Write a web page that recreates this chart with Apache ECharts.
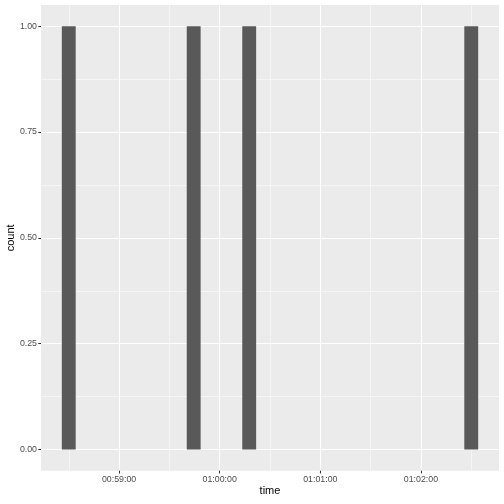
<!DOCTYPE html>
<html>
<head>
<meta charset="utf-8">
<script src="https://cdn.jsdelivr.net/npm/echarts@6/dist/echarts.min.js"></script>
<style>html,body{margin:0;padding:0;background:#fff}#c{width:504px;height:504px}</style>
</head>
<body>
<div id="c"></div>
<script>
// Histogram bins (ggplot default 30 bins); bars with non-zero counts
const binCenters = ["00:58:30", "00:59:44.5", "01:00:17.6", "01:02:30"];
const counts = [1, 1, 1, 1];
const binWidthSec = 240 / 29;
const xTickLabels = ["00:59:00", "01:00:00", "01:01:00", "01:02:00"];
const xMinorTicks = ["00:58:30", "00:59:30", "01:00:30", "01:01:30", "01:02:30"];
const yTicks = [0, 0.25, 0.5, 0.75, 1];
const yMinorTicks = [0.125, 0.375, 0.625, 0.875];

function toSec(s) {
  const p = s.split(':').map(Number);
  return p[0] * 3600 + p[1] * 60 + p[2];
}
function fmt(v) {
  const t = Math.round(v);
  const h = Math.floor(t / 3600), m = Math.floor((t % 3600) / 60), s = t % 60;
  const z = n => String(n).padStart(2, '0');
  return z(h) + ':' + z(m) + ':' + z(s);
}

const centersSec = binCenters.map(toSec);
const data = centersSec.map((c, i) => [c - binWidthSec / 2, c + binWidthSec / 2, counts[i]]);
const lo = Math.min(...data.map(d => d[0]));
const hi = Math.max(...data.map(d => d[1]));
const xPad = (hi - lo) * 0.05;
const xMin = lo - xPad, xMax = hi + xPad;
const yMin = -0.05, yMax = 1.05;

const font = '"Liberation Sans", Arial, sans-serif';
const majorLine = { show: true, lineStyle: { color: '#FFFFFF', width: 1.07 } };
const minorLine = { show: true, lineStyle: { color: '#FFFFFF', width: 0.53 } };

const chart = echarts.init(document.getElementById('c'), null, { renderer: 'canvas' });
chart.setOption({
  animation: false,
  backgroundColor: '#FFFFFF',
  grid: { left: 41, right: 5, top: 5, bottom: 33.3, show: true, backgroundColor: '#EBEBEB', borderWidth: 0, containLabel: false, outerBoundsMode: 'none' },
  xAxis: [
    {
      type: 'value', min: xMin, max: xMax, z: 1, position: 'bottom',
      axisLine: { show: false, onZero: false },
      axisTick: { show: true, length: 2.74, lineStyle: { color: '#333333', width: 1.07 }, customValues: xTickLabels.map(toSec) },
      axisLabel: { show: true, customValues: xTickLabels.map(toSec), formatter: v => fmt(v), color: '#4D4D4D', fontSize: 8.8, fontFamily: font, margin: 4 },
      splitLine: majorLine,
      name: 'time', nameLocation: 'middle', nameGap: 15, nameMoveOverlap: false,
      nameTextStyle: { color: '#000000', fontSize: 11, fontFamily: font }
    },
    {
      type: 'value', min: xMin, max: xMax, position: 'bottom', z: 0,
      axisLine: { show: false, onZero: false },
      axisTick: { show: false, customValues: xMinorTicks.map(toSec) },
      axisLabel: { show: false, customValues: xMinorTicks.map(toSec) },
      splitLine: minorLine
    }
  ],
  yAxis: [
    {
      type: 'value', min: yMin, max: yMax, z: 1, position: 'left',
      axisLine: { show: false, onZero: false },
      axisTick: { show: true, length: 2.74, lineStyle: { color: '#333333', width: 1.07 }, customValues: yTicks },
      axisLabel: { show: true, customValues: yTicks, formatter: v => v.toFixed(2), color: '#4D4D4D', fontSize: 8.8, fontFamily: font, margin: 4 },
      splitLine: majorLine,
      name: 'count', nameLocation: 'middle', nameGap: 25, nameMoveOverlap: false,
      nameTextStyle: { color: '#000000', fontSize: 11, fontFamily: font }
    },
    {
      type: 'value', min: yMin, max: yMax, position: 'left', z: 0,
      axisLine: { show: false, onZero: false },
      axisTick: { show: false, customValues: yMinorTicks },
      axisLabel: { show: false, customValues: yMinorTicks },
      splitLine: minorLine
    }
  ],
  series: [{
    type: 'custom',
    xAxisIndex: 0, yAxisIndex: 0,
    data: data,
    encode: { x: [0, 1], y: 2 },
    renderItem: function (params, api) {
      const p0 = api.coord([api.value(0), api.value(2)]);
      const p1 = api.coord([api.value(1), 0]);
      return {
        type: 'rect',
        shape: { x: p0[0], y: p0[1], width: p1[0] - p0[0], height: p1[1] - p0[1] },
        style: { fill: '#595959' }
      };
    }
  }]
});
</script>
</body>
</html>
